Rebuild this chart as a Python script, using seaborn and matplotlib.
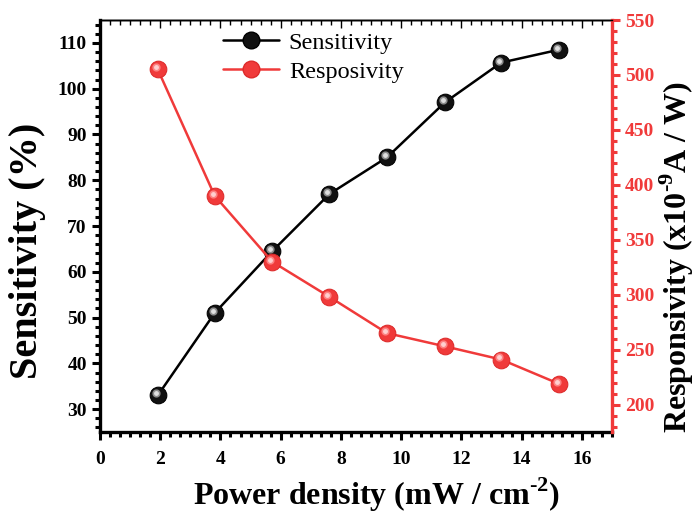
import matplotlib
matplotlib.use("Agg")
import matplotlib.pyplot as plt
import matplotlib.transforms as mtransforms
from matplotlib.ticker import MultipleLocator, AutoMinorLocator
from matplotlib.lines import Line2D
import seaborn as sns
import pandas as pd

power = [1.92, 3.81, 5.72, 7.62, 9.53, 11.45, 13.32, 15.23]
sensitivity = [33.0, 51.0, 64.5, 77.0, 85.0, 97.0, 105.7, 108.5]
responsivity = [505, 390, 330, 298, 265, 253, 241, 219]

RED = "#f03a3a"

sns.set_style("ticks")
plt.rcParams["font.family"] = ["Liberation Serif", "DejaVu Serif"]
plt.rcParams["mathtext.fontset"] = "custom"
plt.rcParams["mathtext.rm"] = "Liberation Serif:bold"
plt.rcParams["mathtext.bf"] = "Liberation Serif:bold"
for k in ["text.color", "axes.labelcolor", "xtick.color", "ytick.color",
          "axes.edgecolor"]:
    plt.rcParams[k] = "black"

df = pd.DataFrame({"power": power, "sens": sensitivity, "resp": responsivity})

fig = plt.figure(figsize=(6.99, 5.14), dpi=100)
ax = fig.add_axes([0.143, 0.1595, 0.7325, 0.8015])
ax2 = ax.twinx()

MS = 12
sns.lineplot(data=df, x="power", y="sens", ax=ax, color="black", lw=1.8,
             marker="o", markersize=MS, markerfacecolor="#111111",
             markeredgecolor="black", zorder=3)
sns.lineplot(data=df, x="power", y="resp", ax=ax2, color=RED, lw=1.8,
             marker="o", markersize=MS, markerfacecolor=RED,
             markeredgecolor="#dd2a2a", zorder=3)

# specular highlights
off1 = mtransforms.offset_copy(ax.transData, fig=fig, x=-1.5, y=1.5, units="points")
off2 = mtransforms.offset_copy(ax2.transData, fig=fig, x=-1.5, y=1.5, units="points")
ax.plot(power, sensitivity, ls="none", marker="o", markersize=5,
        color="#9a9a9a", alpha=0.8, transform=off1, zorder=4)
ax.plot(power, sensitivity, ls="none", marker="o", markersize=2.5,
        color="#e0e0e0", transform=off1, zorder=5)
ax2.plot(power, responsivity, ls="none", marker="o", markersize=5,
         color="#ff8a8a", alpha=0.8, transform=off2, zorder=4)
ax2.plot(power, responsivity, ls="none", marker="o", markersize=2.5,
         color="#ffd0d0", transform=off2, zorder=5)

ax.set_xlim(0, 17)
ax.set_ylim(25, 115)
ax2.set_ylim(175, 550)

ax.xaxis.set_major_locator(MultipleLocator(2))
ax.xaxis.set_minor_locator(AutoMinorLocator(6))
ax.yaxis.set_major_locator(MultipleLocator(10))
ax.yaxis.set_minor_locator(AutoMinorLocator(5))
ax2.yaxis.set_major_locator(MultipleLocator(50))
ax2.yaxis.set_minor_locator(AutoMinorLocator(5))

ax.tick_params(axis="x", which="both", direction="out", bottom=True, top=False,
               labelsize=14, width=2.2, pad=8)
ax.tick_params(axis="x", which="major", length=6)
ax.tick_params(axis="x", which="minor", length=3.5)
ax.tick_params(axis="y", which="both", direction="out", left=True, width=2.2,
               labelsize=14)
ax.tick_params(axis="y", which="major", length=6)
ax.tick_params(axis="y", which="minor", length=3.5)
ax2.tick_params(axis="y", which="both", direction="out", colors=RED, width=2.2,
                labelsize=14)
ax2.tick_params(axis="y", which="major", length=6)
ax2.tick_params(axis="y", which="minor", length=3.5)

# top ticks inward and thin
secx = ax.secondary_xaxis("top")
secx.xaxis.set_major_locator(MultipleLocator(2))
secx.xaxis.set_minor_locator(AutoMinorLocator(6))
secx.tick_params(which="both", direction="in", labeltop=False, width=1)
secx.tick_params(which="major", length=6)
secx.tick_params(which="minor", length=3.5)
secx.spines["top"].set_linewidth(1)

for lab in ax.get_xticklabels() + ax.get_yticklabels():
    lab.set_fontweight("bold")
for lab in ax2.get_yticklabels():
    lab.set_fontweight("bold")
    lab.set_color(RED)

for s in ["left", "bottom"]:
    ax.spines[s].set_linewidth(2.4)
ax.spines["top"].set_linewidth(1)
ax2.spines["right"].set_color(RED)
ax2.spines["right"].set_linewidth(2.4)
ax2.spines["left"].set_visible(False)
ax2.spines["top"].set_linewidth(1)
ax2.spines["bottom"].set_visible(False)
ax.spines["right"].set_visible(False)

ax.set_xlabel("Power density (mW / cm$^{\\text{-}2}$)", fontsize=23,
              fontweight="bold")
ax.xaxis.set_label_coords(0.54, -0.105)
ax.set_ylabel("Sensitivity (%)", fontsize=29, fontweight="bold")
ax.yaxis.set_label_coords(-0.105, 0.44)
ax2.set_ylabel("Responsivity (x10$^{\\text{-}9}$A / W)", fontsize=23,
               fontweight="bold")
ax2.yaxis.set_label_coords(1.09, 0.425)

handles = [
    Line2D([], [], color="black", lw=1.8, marker="o", markersize=MS,
           markerfacecolor="#111111", markeredgecolor="black"),
    Line2D([], [], color=RED, lw=1.8, marker="o", markersize=MS,
           markerfacecolor=RED, markeredgecolor="#dd2a2a"),
]
ax.legend(handles, ["Sensitivity", "Resposivity"], loc="upper left",
          bbox_to_anchor=(0.198, 1.025), frameon=False, fontsize=17.5,
          handlelength=2.3, handletextpad=0.4, labelspacing=0.3)

fig.savefig("out.png", dpi=100)
